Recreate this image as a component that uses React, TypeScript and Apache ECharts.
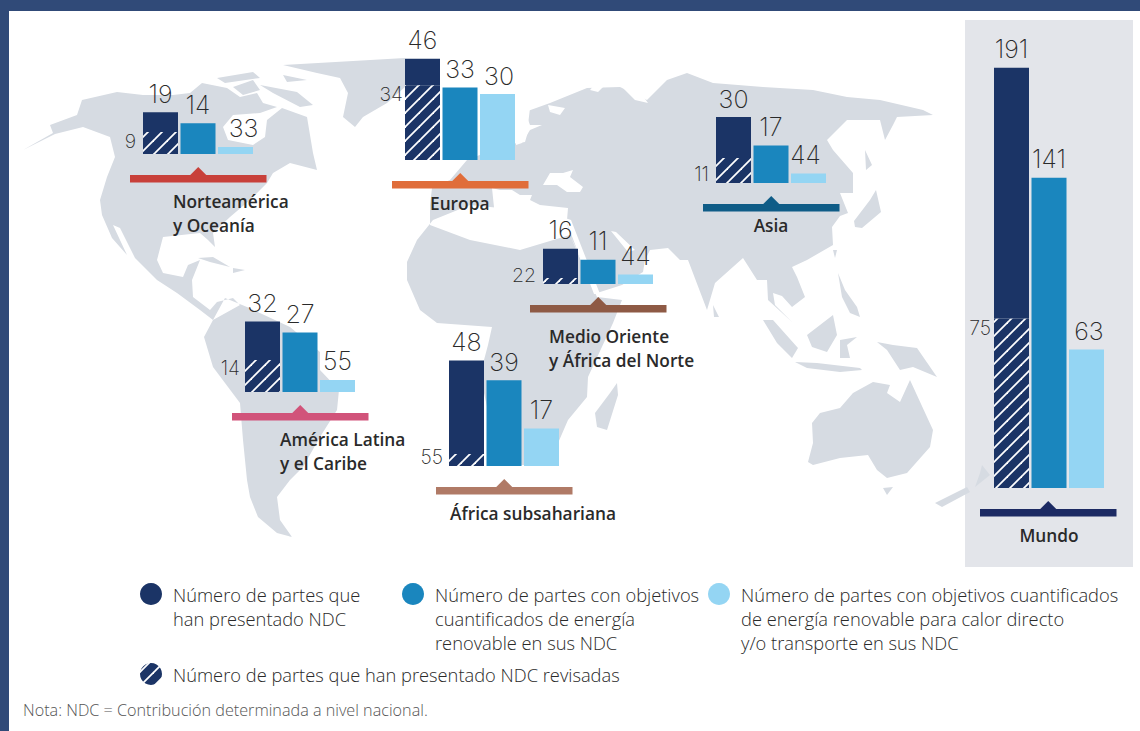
import React, { useEffect, useRef } from "react";
import * as echarts from "echarts";

// ---------- data ----------
const regions = ["Norteamérica y Oceanía", "Europa", "Asia", "Medio Oriente y África del Norte", "América Latina y el Caribe", "África subsahariana", "Mundo"];
const categories = ["NDC", "Energía renovable", "Calor directo y/o transporte"];
const ndcTotal = [19, 46, 30, 16, 32, 48, 191];
const ndcRevisedDrawn = [10, 34, 11.4, 2.7, 14.5, 5.5, 77];
const ndcRevisedLabels = ["9", "34", "11", "22", "14", "55", "75"];
const renewableTargets = [14, 33, 17, 11, 27, 39, 141];
const heatTransportDrawn = [3.2, 30, 4.3, 4.3, 5.5, 17, 63];
const heatTransportLabels = ["33", "30", "44", "44", "55", "17", "63"];

// ---------- layout ----------
const PX_PER_UNIT = 2.2;
const FONT = "'Open Sans', 'Noto Sans', sans-serif";
const NUM_FONT = "Inter, 'Noto Sans', sans-serif";
const NAVY = "#1B3466";
const BLUE = "#1A86BE";
const LIGHT = "#94D5F3";
const TEXT = "#2A2A2A";
const layouts = [
  { x: 143, base: 154, max: 60, dist: 7, dy: -2, lightDx: 8 },
  { x: 405, base: 160, max: 60, dist: 2, dy: -29, lightDx: 1.5 },
  { x: 716, base: 183, max: 60, dist: 7, dy: 4, lightDx: -3 },
  { x: 543, base: 284, max: 60, dist: 7, dy: -6, lightDx: 0 },
  { x: 245, base: 392, max: 60, dist: 5, dy: -8, lightDx: 0 },
  { x: 449, base: 466, max: 60, dist: 6, dy: -3, lightDx: 0 },
  { x: 994, base: 488, max: 200, dist: 3, dy: -75, lightDx: 2.5 },
];
const brackets = [
  { x: 130, y: 175, color: "#C8403A" },
  { x: 392, y: 181, color: "#E06D3A" },
  { x: 703, y: 204, color: "#0F5C87" },
  { x: 530, y: 305, color: "#8E5A45" },
  { x: 232, y: 413, color: "#D1537A" },
  { x: 436, y: 487, color: "#B07A66" },
  { x: 980, y: 509, color: "#1C2A63" },
];
const regionTexts = [
  { t: "Norteamérica\ny Oceanía", x: 173, y: 189, align: "left" },
  { t: "Europa", x: 430, y: 191, align: "left" },
  { t: "Asia", x: 771, y: 213, align: "center" },
  { t: "Medio Oriente\ny África del Norte", x: 549, y: 324, align: "left" },
  { t: "América Latina\ny el Caribe", x: 280, y: 427, align: "left" },
  { t: "África subsahariana", x: 450, y: 501, align: "left" },
  { t: "Mundo", x: 1049, y: 523, align: "center" },
];
const legendItems = [
  { x: 151, y: 594, fill: NAVY, tx: 173, t: "Número de partes que\nhan presentado NDC" },
  { x: 413, y: 594, fill: BLUE, tx: 435, t: "Número de partes con objetivos\ncuantificados de energía\nrenovable en sus NDC" },
  { x: 719, y: 594, fill: LIGHT, tx: 741, t: "Número de partes con objetivos cuantificados\nde energía renovable para calor directo\ny/o transporte en sus NDC" },
  { x: 151, y: 674, fill: "hatch", tx: 173, t: "Número de partes que han presentado NDC revisadas" },
];
const noteText = "Nota: NDC = Contribución determinada a nivel nacional.";

// ---------- background map outline (page pixels) ----------
const land = [
  // Norteamérica
  "23,150 53,133 50,125 77,115 82,100 117,92 143,95 173,95 190,93 202,83 227,88 240,97 257,93 263,103 277,107 260,113 233,115 223,127 228,140 253,145 265,137 267,120 282,108 307,117 313,153 317,170 290,163 273,173 267,183 250,200 230,217 213,233 215,247 208,240 200,233 163,237 157,260 163,273 183,277 188,265 200,260 192,280 193,297 210,310 217,302 233,298 240,305 213,320 200,310 177,293 157,280 135,258 120,228 113,225 127,255 112,238 102,215 100,200 107,177 115,157 110,137 83,127 55,134",
  // Ártico y Groenlandia
  "217,78 253,72 260,78 225,83",
  "233,87 253,80 260,90 243,95",
  "260,85 297,92 313,105 300,107 273,93",
  "283,75 307,80 287,82",
  "283,65 353,61 405,58 405,87 387,103 363,117 355,127 343,117 348,93 340,78 317,73",
  // Caribe
  "198,258 213,257 230,267 210,262",
  "233,268 245,270 233,273",
  // Sudamérica
  "225,298 213,320 204,337 213,367 240,403 243,440 247,480 250,497 258,517 277,533 292,537 280,520 277,497 290,480 303,467 320,437 337,410 339,390 320,370 320,352 290,327 247,307",
  // África
  "433,220 417,240 407,262 407,280 420,310 437,323 492,327 488,345 480,375 490,420 500,460 520,465 545,465 555,450 568,420 587,397 588,377 613,323 622,300 597,297 585,270 570,235 565,215 520,210 470,205",
  "617,383 618,395 607,430 597,427 595,413 610,393",
  // Eurasia
  "430,205 432,188 450,180 467,160 505,145 525,142 530,125 525,112 550,103 587,88 620,87 647,100 667,80 687,73 713,83 763,87 813,90 847,97 880,100 923,110 933,115 897,117 893,125 885,140 880,120 847,120 827,140 833,150 853,173 853,193 840,193 848,213 840,216 832,227 833,245 807,260 792,267 797,277 805,297 792,307 782,296 773,293 775,305 792,322 768,300 767,280 757,280 743,258 715,283 707,310 688,260 680,260 668,248 650,250 645,260 643,272 622,285 597,293 570,235 520,250 470,240 430,225",
  // Islas
  "855,227 862,228 881,212 876,190 870,200 854,221",
  "865,150 872,165 866,170",
  "833,250 837,250 835,258",
  "763,320 773,320 798,348 792,358 777,343",
  "795,362 817,363 860,368 862,370 840,372 807,368",
  "807,335 833,315 837,335 827,352 812,347",
  "840,340 857,337 847,345 850,358 840,358",
  "838,273 845,290 857,307 860,317 850,313 842,297",
  "877,342 893,345 917,348 937,377 913,367 900,370 887,350",
  "812,423 820,413 840,408 853,393 873,382 890,385 887,393 900,402 910,380 927,417 933,430 930,447 907,473 887,478 877,470 868,455 840,458 813,465 808,462 813,443",
  "883,488 893,487 887,495",
  "935,503 967,487 970,492 942,507",
  "982,465 990,475 975,487 980,473",
  "713,305 719,317 714,317",
];
const seas = [
  // Mediterráneo
  "492,188 500,190 512,190 520,195 532,195 530,200 540,205 568,208 567,220 547,215 532,217 520,228 495,217",
  // Mar Negro
  "543,185 550,173 563,173 573,170 570,177 583,187 580,192 567,192 557,185",
  // Mar Rojo
  "565,218 571,220 600,294 594,294",
  // Golfo Pérsico
  "611,231 616,232 635,250 628,252",
  // Báltico y Ártico
  "516,110 530,108 528,125 542,125 530,130 522,143 516,145",
  "548,105 565,108 560,115 550,112",
  "590,90 600,78 615,78 605,85 598,92",
  "623,88 640,92 648,103 635,100",
];
const toPath = (polys: string[]) =>
  polys.map((p) => "M" + p.trim().split(/\s+/).join("L") + "Z").join(" ");
echarts.graphic.registerShape("mapLand", echarts.graphic.extendPath(toPath(land), {}));
echarts.graphic.registerShape("mapSeas", echarts.graphic.extendPath(toPath(seas), {}));

function hatchPattern() {
  const s = 14;
  const c = document.createElement("canvas");
  c.width = s;
  c.height = s;
  const g = c.getContext("2d")!;
  g.fillStyle = NAVY;
  g.fillRect(0, 0, s, s);
  g.strokeStyle = "#fff";
  g.lineWidth = 1.8;
  for (const d of [-s, 0, s]) {
    g.beginPath();
    g.moveTo(d - 2, s + 2);
    g.lineTo(d + s + 2, -2);
    g.stroke();
  }
  return { image: c, repeat: "repeat" };
}

export default function App() {
  const ref = useRef<HTMLDivElement>(null);
  useEffect(() => {
    document.body.style.margin = "0";
    const chart = echarts.init(ref.current!, undefined, { renderer: "svg" });
    const hatch = hatchPattern();
    const grid = layouts.map((l) => ({
      left: l.x - 1.25,
      width: 112.5,
      top: l.base - l.max * PX_PER_UNIT,
      height: l.max * PX_PER_UNIT,
      containLabel: false,
    }));
    const xAxis = layouts.map((_, i) => ({ type: "category", gridIndex: i, show: false, data: categories }));
    const yAxis = layouts.map((l, i) => ({ type: "value", gridIndex: i, show: false, min: 0, max: l.max }));
    const topLabel = (text: string, dx = 0) => ({
      show: true,
      position: "top",
      distance: 6,
      offset: [dx, 0],
      formatter: text,
      fontFamily: NUM_FONT,
      fontWeight: 200,
      fontSize: 25,
      color: "#2A2A2A",
    });
    const series: any[] = [];
    regions.forEach((r, i) => {
      const common = { type: "bar", xAxisIndex: i, yAxisIndex: i, stack: "s" + i, barWidth: 35, silent: true };
      series.push({
        ...common,
        name: r + " – NDC revisadas",
        data: [ndcRevisedDrawn[i], null, null],
        itemStyle: { color: hatch },
        label: {
          show: true,
          position: "left",
          distance: layouts[i].dist,
          offset: [0, layouts[i].dy],
          formatter: ndcRevisedLabels[i],
          fontFamily: NUM_FONT,
          fontWeight: 200,
          fontSize: 19.5,
          color: "#2A2A2A",
        },
      });
      series.push({
        ...common,
        name: r + " – NDC",
        data: [ndcTotal[i] - ndcRevisedDrawn[i], null, null],
        itemStyle: { color: NAVY },
        label: topLabel(String(ndcTotal[i])),
      });
      series.push({
        ...common,
        name: r + " – energía renovable",
        data: [null, renewableTargets[i], null],
        itemStyle: { color: BLUE },
        label: topLabel(String(renewableTargets[i])),
      });
      series.push({
        ...common,
        name: r + " – calor y transporte",
        data: [null, null, heatTransportDrawn[i]],
        itemStyle: { color: LIGHT },
        label: topLabel(heatTransportLabels[i], layouts[i].lightDx),
      });
    });
    const txt = (t: string, x: number, y: number, o: any = {}) => ({
      type: "text",
      x,
      y,
      z: 5,
      style: {
        text: t,
        x: 0,
        y: 0,
        fill: TEXT,
        fontFamily: FONT,
        fontSize: 18.3,
        fontWeight: 300,
        lineHeight: 24,
        verticalAlign: "top",
        ...o,
      },
    });
    const graphic: any[] = [
      { type: "rect", z: 0, shape: { x: 965, y: 20, width: 168, height: 547 }, style: { fill: "#E3E5EA" } },
      { type: "mapLand", z: 1, x: 0, y: 0, style: { fill: "#D6DBE2" } },
      { type: "mapSeas", z: 1, x: 0, y: 0, style: { fill: "#FFFFFF" } },
      { type: "rect", z: 6, shape: { x: 0, y: 0, width: 1140, height: 11 }, style: { fill: "#304A78" } },
      { type: "rect", z: 6, shape: { x: 0, y: 0, width: 9, height: 731 }, style: { fill: "#304A78" } },
    ];
    brackets.forEach((b) => {
      const w = 136.5;
      const c = b.x + w / 2;
      graphic.push({
        type: "polygon",
        z: 4,
        shape: {
          points: [
            [b.x, b.y],
            [c - 8, b.y],
            [c, b.y - 8],
            [c + 8, b.y],
            [b.x + w, b.y],
            [b.x + w, b.y + 7.5],
            [b.x, b.y + 7.5],
          ],
        },
        style: { fill: b.color },
      });
    });
    regionTexts.forEach((t) =>
      graphic.push(txt(t.t, t.x, t.y, { fontWeight: 600, fontSize: 17.3, align: t.align }))
    );
    legendItems.forEach((l) => {
      graphic.push({
        type: "circle",
        z: 5,
        shape: { cx: l.x, cy: l.y, r: 11 },
        style: { fill: l.fill === "hatch" ? hatch : l.fill },
      });
      graphic.push(txt(l.t, l.tx, l.y - 12));
    });
    graphic.push(txt(noteText, 23, 698, { fontSize: 16.2, fill: "#555555" }));
    chart.setOption({
      animation: false,
      backgroundColor: "#FFFFFF",
      tooltip: { show: false },
      legend: { show: false },
      grid,
      xAxis,
      yAxis,
      series,
      graphic,
    });
    return () => chart.dispose();
  }, []);
  return <div ref={ref} style={{ position: "absolute", left: 0, top: 0, width: 1140, height: 731 }} />;
}
